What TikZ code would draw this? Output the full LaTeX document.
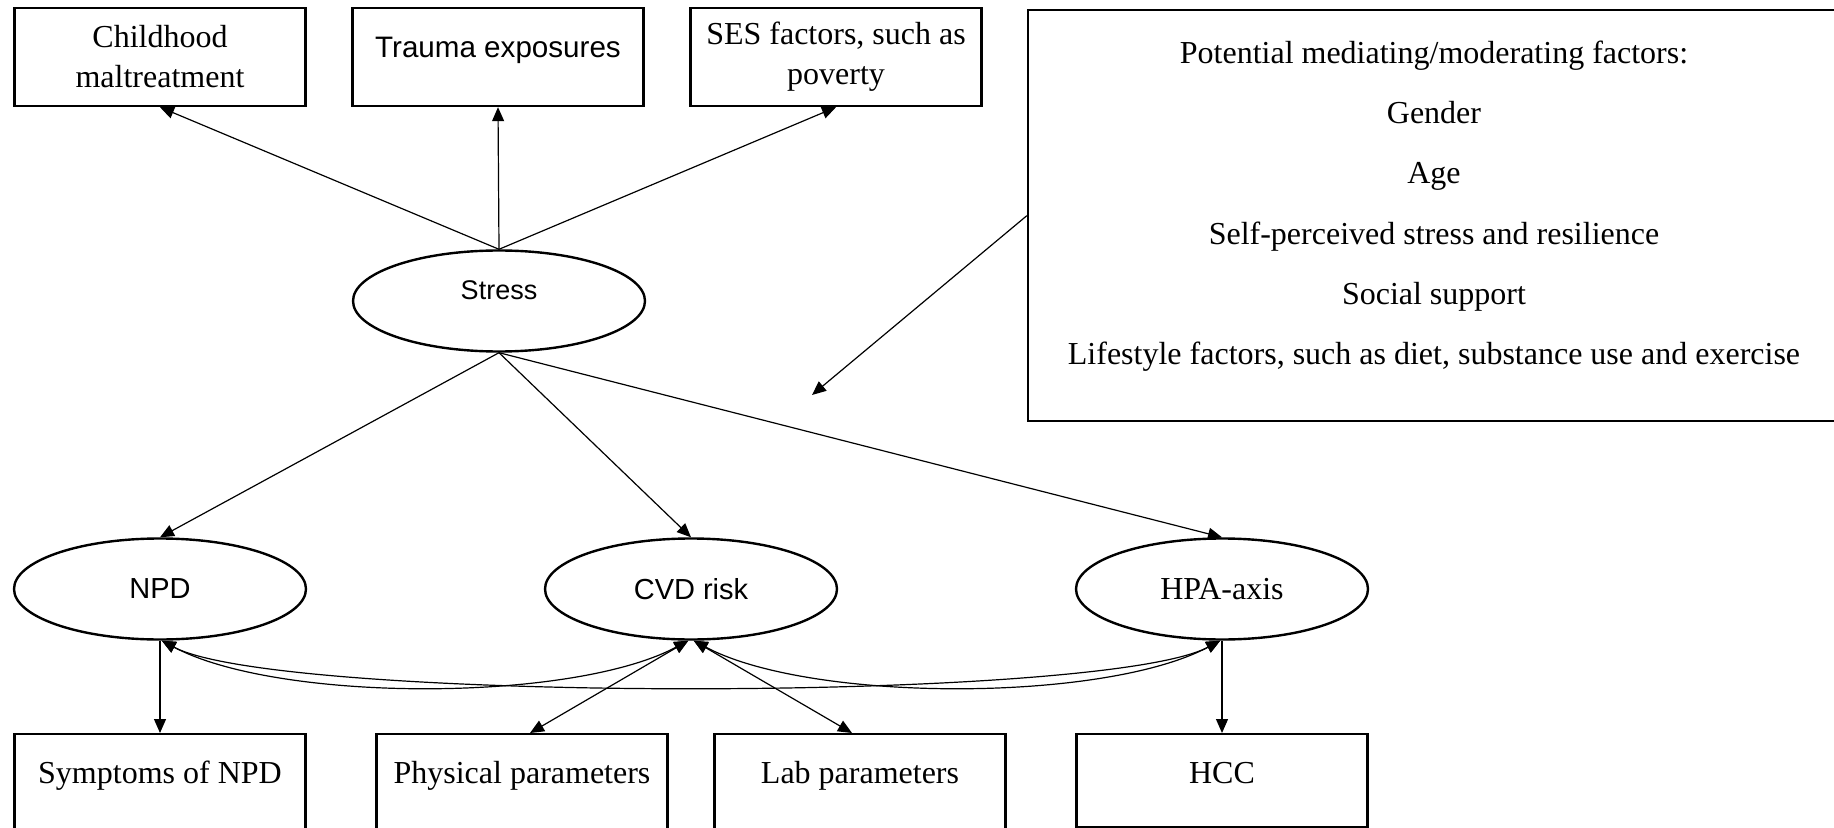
\documentclass[tikz,border=0pt]{standalone}
\usepackage{fontspec}
\setmainfont{Liberation Serif}
\setsansfont{Liberation Sans}
\usetikzlibrary{shapes.geometric,arrows.meta}

\begin{document}
\begin{tikzpicture}[x=.5pt,y=-.5pt,line width=1.2pt,
  cause/.style={draw,minimum width=145.5pt,minimum height=49pt,align=center,font=\fontsize{16}{20}\selectfont},
  latent/.style={draw,ellipse,minimum width=146pt,minimum height=50.5pt,inner sep=0pt,font=\sffamily\fontsize{14.5}{17}\selectfont},
  measure/.style={draw,anchor=north,minimum width=145.5pt,inner ysep=3pt,text height=21.8pt,text depth=25.7pt,font=\fontsize{16}{20}\selectfont},
  arr/.style={-{Triangle[length=7pt,width=6pt]},line width=.6pt},
  dbl/.style={{Triangle[length=7pt,width=6pt]}-{Triangle[length=7pt,width=6pt]},line width=.6pt}]
\useasboundingbox (0,0) rectangle (1834,828); \clip (0,0) rectangle (1834,828);
% what stress is made of
\node[cause] (child) at (160,57) {Childhood\\maltreatment};
\node[cause,font=\sffamily\fontsize{14.8}{17}\selectfont,text depth=10pt] (trauma) at (498,57) {Trauma exposures};
\node[cause] (ses) at (836,57) {SES factors, such as\\poverty};
\node[cause,anchor=north,minimum width=406pt,minimum height=205.5pt,font=\fontsize{16}{30.1}\selectfont] (factors) at (1434,9)
  {Potential mediating/moderating factors:\\Gender\\Age\\Self-perceived stress and resilience\\Social support\\Lifestyle factors, such as diet, substance use and exercise\rule[-12.9pt]{0pt}{0pt}};
% outcomes
\node[latent,text depth=11pt,font=\sffamily\fontsize{13.5}{16}\selectfont] (stress) at (499,301) {Stress};
\node[latent] (npd) at (160,589) {NPD}; \node[latent] (cvd) at (691,589) {CVD risk};
\node[latent,font=\fontsize{16}{20}\selectfont] (hpa) at (1222,589) {HPA-axis};
\node[measure] (symp) at (160,733) {Symptoms of NPD}; \node[measure] (phys) at (522,733) {Physical parameters};
\node[measure] (lab) at (860,733) {Lab parameters}; \node[measure,text depth=18.7pt] (hcc) at (1222,733) {HCC};
\coordinate (modend) at (812,395);
\draw[arr] (stress.north)--(child.south); \draw[arr] (stress.north)--(trauma.south); \draw[arr] (stress.north)--(ses.south);
\draw[arr] (stress.south)--(npd.north); \draw[arr] (stress.south)--(cvd.north); \draw[arr] (stress.south)--(hpa.north);
\draw[arr] (factors.west)--(modend);
\draw[arr] (npd.south)--(symp.north); \draw[arr] (hpa.south)--(hcc.north);
\draw[dbl] (cvd.-93)--([xshift=4pt]phys.north); \draw[dbl] (cvd.-87)--([xshift=-4pt]lab.north);
% links between the outcomes
\draw[dbl] (npd.-88) to[out=-28,in=-152,distance=66pt] (cvd.-93);
\draw[dbl] (npd.-88) to[out=-28,in=-152,distance=66pt] (hpa.-92);
\draw[dbl] (cvd.-87) to[out=-28,in=-152,distance=66pt] (hpa.-92);
\end{tikzpicture}
\end{document}
